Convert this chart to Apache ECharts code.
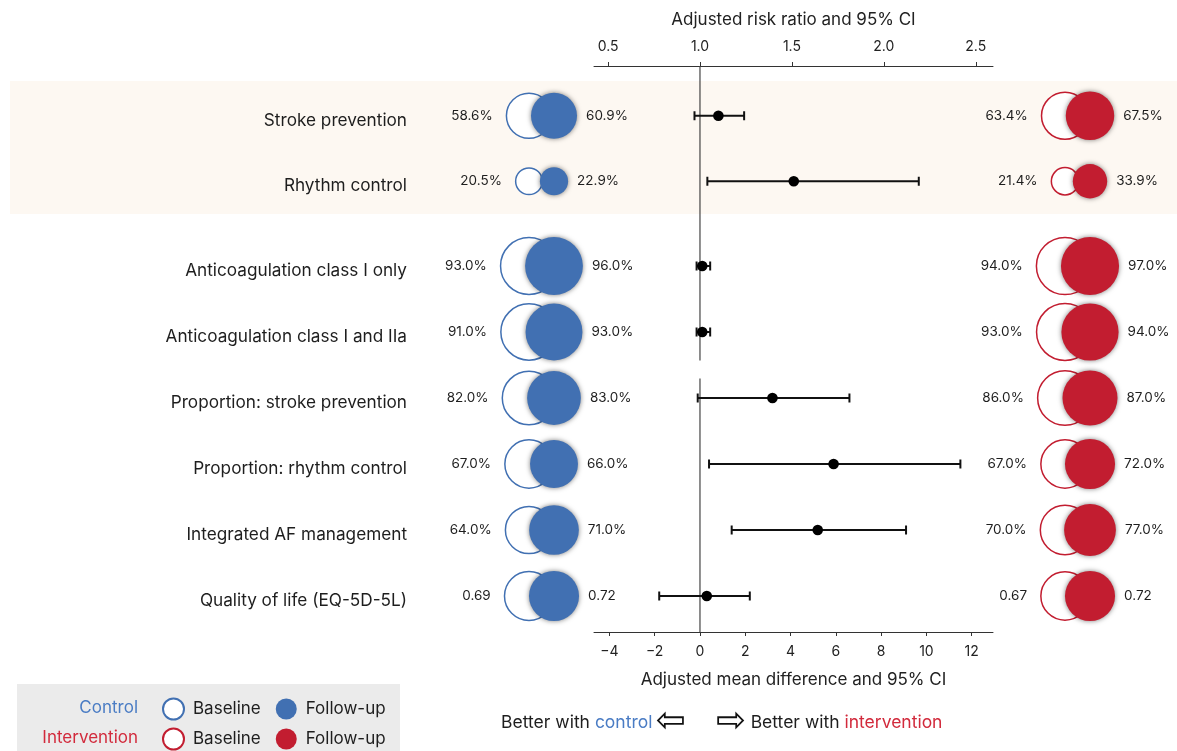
<!DOCTYPE html>
<html>
<head>
<meta charset="utf-8">
<script src="https://cdn.jsdelivr.net/npm/echarts@6/dist/echarts.min.js"></script>
<style>
  html, body { margin: 0; padding: 0; background: #ffffff; }
  #chart { width: 1177px; height: 751px; }
</style>
</head>
<body>
<div id="chart"></div>
<script>
// Outcome rows (first two use the risk-ratio axis, the rest the mean-difference axis)
const rowLabels = [
  'Stroke prevention',
  'Rhythm control',
  'Anticoagulation class I only',
  'Anticoagulation class I and IIa',
  'Proportion: stroke prevention',
  'Proportion: rhythm control',
  'Integrated AF management',
  'Quality of life (EQ-5D-5L)'
];
const ratioRowCount = 2;

// Arm values at baseline and follow-up (% or utility score)
const controlBaseline      = [58.6, 20.5, 93.0, 91.0, 82.0, 67.0, 64.0, 0.69];
const controlFollowUp      = [60.9, 22.9, 96.0, 93.0, 83.0, 66.0, 71.0, 0.72];
const interventionBaseline = [63.4, 21.4, 94.0, 93.0, 86.0, 67.0, 70.0, 0.67];
const interventionFollowUp = [67.5, 33.9, 97.0, 94.0, 87.0, 72.0, 77.0, 0.72];

// Adjusted effect estimates with 95% CI
const estimate = [1.10, 1.51, 0.10, 0.10, 3.2, 5.9, 5.2, 0.3];
const ciLow    = [0.97, 1.04, -0.15, -0.15, -0.1, 0.4, 1.4, -1.8];
const ciHigh   = [1.24, 2.19, 0.45, 0.45, 6.6, 11.5, 9.1, 2.2];

// Axis tick values
const ratioTicks = [0.5, 1.0, 1.5, 2.0, 2.5];
const diffTicks  = [-4, -2, 0, 2, 4, 6, 8, 10, 12];

// ---- layout ----
const FONT = 'Inter, "Noto Sans", sans-serif';
const BLUE = '#4170b2';
const RED = '#c21d30';
const BLUE_TEXT = '#4a7cc4';
const RED_TEXT = '#d22a3c';
const PLOT_LEFT = 594, PLOT_WIDTH = 399;
const TOP_AXIS_Y = 66;
const G0_TOP = 83, G0_H = 131;
const G1_TOP = 233, G1_H = 396;
const BOTTOM_AXIS_Y = 632;
const CTRL_LEFT = 516.5, INT_LEFT = 1052.5, ARM_W = 50;

const topRows = rowLabels.slice(0, ratioRowCount);
const bottomRows = rowLabels.slice(ratioRowCount);

function fmtValue(v) { return v < 1 ? v.toFixed(2) : v.toFixed(1) + '%'; }
function circleSize(v) { const p = v < 1 ? v * 100 : v; return 5.9 * Math.sqrt(p); }

const grids = [
  { left: PLOT_LEFT, width: PLOT_WIDTH, top: G0_TOP, height: G0_H },
  { left: PLOT_LEFT, width: PLOT_WIDTH, top: G1_TOP, height: G1_H },
  { left: CTRL_LEFT, width: ARM_W, top: G0_TOP, height: G0_H },
  { left: CTRL_LEFT, width: ARM_W, top: G1_TOP, height: G1_H },
  { left: INT_LEFT, width: ARM_W, top: G0_TOP, height: G0_H },
  { left: INT_LEFT, width: ARM_W, top: G1_TOP, height: G1_H }
];

const axisText = { color: '#222', fontFamily: FONT, fontSize: 14 };
const xAxes = [
  {
    gridIndex: 0, type: 'value', position: 'top', offset: G0_TOP - TOP_AXIS_Y,
    min: 0.4234, max: 2.5937,
    name: 'Adjusted risk ratio and 95% CI', nameLocation: 'middle', nameGap: 38,
    nameTextStyle: { color: '#222', fontFamily: FONT, fontSize: 17 },
    axisLine: { show: true, lineStyle: { color: '#333', width: 1 } },
    axisTick: { show: true, length: 4, customValues: ratioTicks, lineStyle: { color: '#333' } },
    axisLabel: Object.assign({ customValues: ratioTicks, margin: 12, formatter: v => v.toFixed(1) }, axisText),
    splitLine: { show: false }
  },
  {
    gridIndex: 1, type: 'value', position: 'bottom', offset: BOTTOM_AXIS_Y - (G1_TOP + G1_H),
    min: -4.68, max: 12.94,
    name: 'Adjusted mean difference and 95% CI', nameLocation: 'middle', nameGap: 39,
    nameTextStyle: { color: '#222', fontFamily: FONT, fontSize: 17 },
    axisLine: { show: true, lineStyle: { color: '#333', width: 1 } },
    axisTick: { show: true, length: 4, customValues: diffTicks, lineStyle: { color: '#333' } },
    axisLabel: Object.assign({ customValues: diffTicks, margin: 13,
      formatter: v => String(v).replace('-', '\u2212') }, axisText),
    splitLine: { show: false }
  }
];
for (let g = 2; g < 6; g++) {
  xAxes.push({ gridIndex: g, type: 'category', data: ['Baseline', 'Follow-up'], show: false });
}

const hiddenCat = (g, data) => ({ gridIndex: g, type: 'category', data, inverse: true, show: false });
const labelledCat = (g, data) => ({
  gridIndex: g, type: 'category', data, inverse: true,
  axisLine: { show: false }, axisTick: { show: false }, splitLine: { show: false },
  axisLabel: { margin: CTRL_LEFT - 407, color: '#1e1e1e', fontFamily: FONT, fontSize: 17.2,
    verticalAlign: 'top', lineHeight: 10 }
});
const yAxes = [
  hiddenCat(0, topRows), hiddenCat(1, bottomRows),
  labelledCat(2, topRows), labelledCat(3, bottomRows),
  hiddenCat(4, topRows), hiddenCat(5, bottomRows)
];

// forest plot: point estimate with CI whiskers
function forestItem(params, api) {
  const row = api.value(1);
  const pMid = api.coord([api.value(0), row]);
  const pLo = api.coord([api.value(2), row]);
  const pHi = api.coord([api.value(3), row]);
  const cap = 4.5;
  const st = { stroke: '#111', lineWidth: 2 };
  return {
    type: 'group',
    children: [
      { type: 'line', shape: { x1: pLo[0], y1: pLo[1], x2: pHi[0], y2: pHi[1] }, style: st },
      { type: 'line', shape: { x1: pLo[0], y1: pLo[1] - cap, x2: pLo[0], y2: pLo[1] + cap }, style: st },
      { type: 'line', shape: { x1: pHi[0], y1: pHi[1] - cap, x2: pHi[0], y2: pHi[1] + cap }, style: st },
      { type: 'circle', shape: { cx: pMid[0], cy: pMid[1], r: 5.3 }, style: { fill: '#000' } }
    ]
  };
}
function forestData(from, to) {
  const out = [];
  for (let i = from; i < to; i++) out.push([estimate[i], i - from, ciLow[i], ciHigh[i]]);
  return out;
}

// vertical no-effect line (RR = 1 / difference = 0), broken before the proportion rows
function refLine(params, api) {
  const x = api.coord([0, 0])[0];
  const yA = api.coord([0, 1])[1];
  const yB = api.coord([0, 2])[1];
  const st = { stroke: '#444', lineWidth: 1.2 };
  return {
    type: 'group',
    children: [
      { type: 'line', shape: { x1: x, y1: TOP_AXIS_Y, x2: x, y2: yA + 28.5 }, style: st },
      { type: 'line', shape: { x1: x, y1: yB - 19.5, x2: x, y2: BOTTOM_AXIS_Y }, style: st }
    ]
  };
}

function armSeries(name, values, catIdx, gridTop, gridBottom, filled, color) {
  const make = (g, from, to) => ({
    name, type: 'scatter', xAxisIndex: g, yAxisIndex: g,
    symbol: 'circle',
    symbolSize: val => circleSize(val[2]),
    data: values.slice(from, to).map((v, i) => [catIdx, i, v]),
    itemStyle: filled
      ? { color, opacity: 1, shadowBlur: 5, shadowColor: 'rgba(0,0,0,0.5)' }
      : { color: '#ffffff', opacity: 1, borderColor: color, borderWidth: 1.5 },
    label: {
      show: true,
      position: filled ? 'right' : 'left',
      distance: filled ? 9 : 13,
      formatter: p => fmtValue(p.value[2]),
      color: '#1e1e1e', fontFamily: FONT, fontSize: 13.5
    },
    emphasis: { disabled: true },
    z: filled ? 4 : 3
  });
  return [make(gridTop, 0, ratioRowCount), make(gridBottom, ratioRowCount, rowLabels.length)];
}

const series = [
  { type: 'custom', xAxisIndex: 1, yAxisIndex: 1, renderItem: refLine, data: [[0, 0]], silent: true, z: 1, clip: false },
  { type: 'custom', xAxisIndex: 0, yAxisIndex: 0, renderItem: forestItem,
    data: forestData(0, ratioRowCount), encode: { x: [0, 2, 3], y: 1 }, z: 5 },
  { type: 'custom', xAxisIndex: 1, yAxisIndex: 1, renderItem: forestItem,
    data: forestData(ratioRowCount, rowLabels.length), encode: { x: [0, 2, 3], y: 1 }, z: 5 },
  ...armSeries('Control baseline', controlBaseline, 0, 2, 3, false, BLUE),
  ...armSeries('Control follow-up', controlFollowUp, 1, 2, 3, true, BLUE),
  ...armSeries('Intervention baseline', interventionBaseline, 0, 4, 5, false, RED),
  ...armSeries('Intervention follow-up', interventionFollowUp, 1, 4, 5, true, RED)
];

const legendBase = {
  orient: 'horizontal', left: 162, padding: 0, itemWidth: 21, itemHeight: 21, itemGap: 15,
  icon: 'circle', selectedMode: false,
  formatter: n => (n.endsWith('baseline') ? 'Baseline' : 'Follow-up'),
  textStyle: { color: '#1e1e1e', fontFamily: FONT, fontSize: 17, padding: [0, 0, 0, 4] }
};

const option = {
  animation: false,
  backgroundColor: '#ffffff',
  grid: grids,
  xAxis: xAxes,
  yAxis: yAxes,
  series,
  legend: [
    Object.assign({ top: 697.5, data: ['Control baseline', 'Control follow-up'] }, legendBase),
    Object.assign({ top: 727.5, data: ['Intervention baseline', 'Intervention follow-up'] }, legendBase)
  ],
  graphic: [
    { type: 'rect', z: -10, silent: true, shape: { x: 10, y: 81, width: 1167, height: 133 },
      style: { fill: '#fdf8f2' } },
    { type: 'rect', z: -10, silent: true, shape: { x: 17, y: 684, width: 383, height: 67 },
      style: { fill: '#ebebeb' } },
    { type: 'text', x: 138, y: 708, style: { text: 'Control', fill: BLUE_TEXT, font: '17px ' + FONT,
      align: 'right', verticalAlign: 'middle' } },
    { type: 'text', x: 138, y: 738, style: { text: 'Intervention', fill: RED_TEXT, font: '17px ' + FONT,
      align: 'right', verticalAlign: 'middle' } },
    { type: 'text', x: 686, y: 723, style: {
      text: '{k|Better with }{c|control}{s| }{a|\u21E6}', align: 'right', verticalAlign: 'middle',
      rich: {
        k: { fill: '#1e1e1e', fontFamily: FONT, fontSize: 17.5 },
        c: { fill: BLUE_TEXT, fontFamily: FONT, fontSize: 17.5 },
        s: { fontFamily: FONT, fontSize: 12 },
        a: { fill: '#111', fontFamily: 'DejaVu Sans', fontSize: 36 }
      } } },
    { type: 'text', x: 716, y: 723, style: {
      text: '{a|\u21E8}{s| }{k|Better with }{i|intervention}', align: 'left', verticalAlign: 'middle',
      rich: {
        k: { fill: '#1e1e1e', fontFamily: FONT, fontSize: 17.5 },
        i: { fill: RED_TEXT, fontFamily: FONT, fontSize: 17.5 },
        s: { fontFamily: FONT, fontSize: 16 },
        a: { fill: '#111', fontFamily: 'DejaVu Sans', fontSize: 36 }
      } } }
  ]
};

const chart = echarts.init(document.getElementById('chart'), null, { renderer: 'canvas' });
chart.setOption(option);
</script>
</body>
</html>
